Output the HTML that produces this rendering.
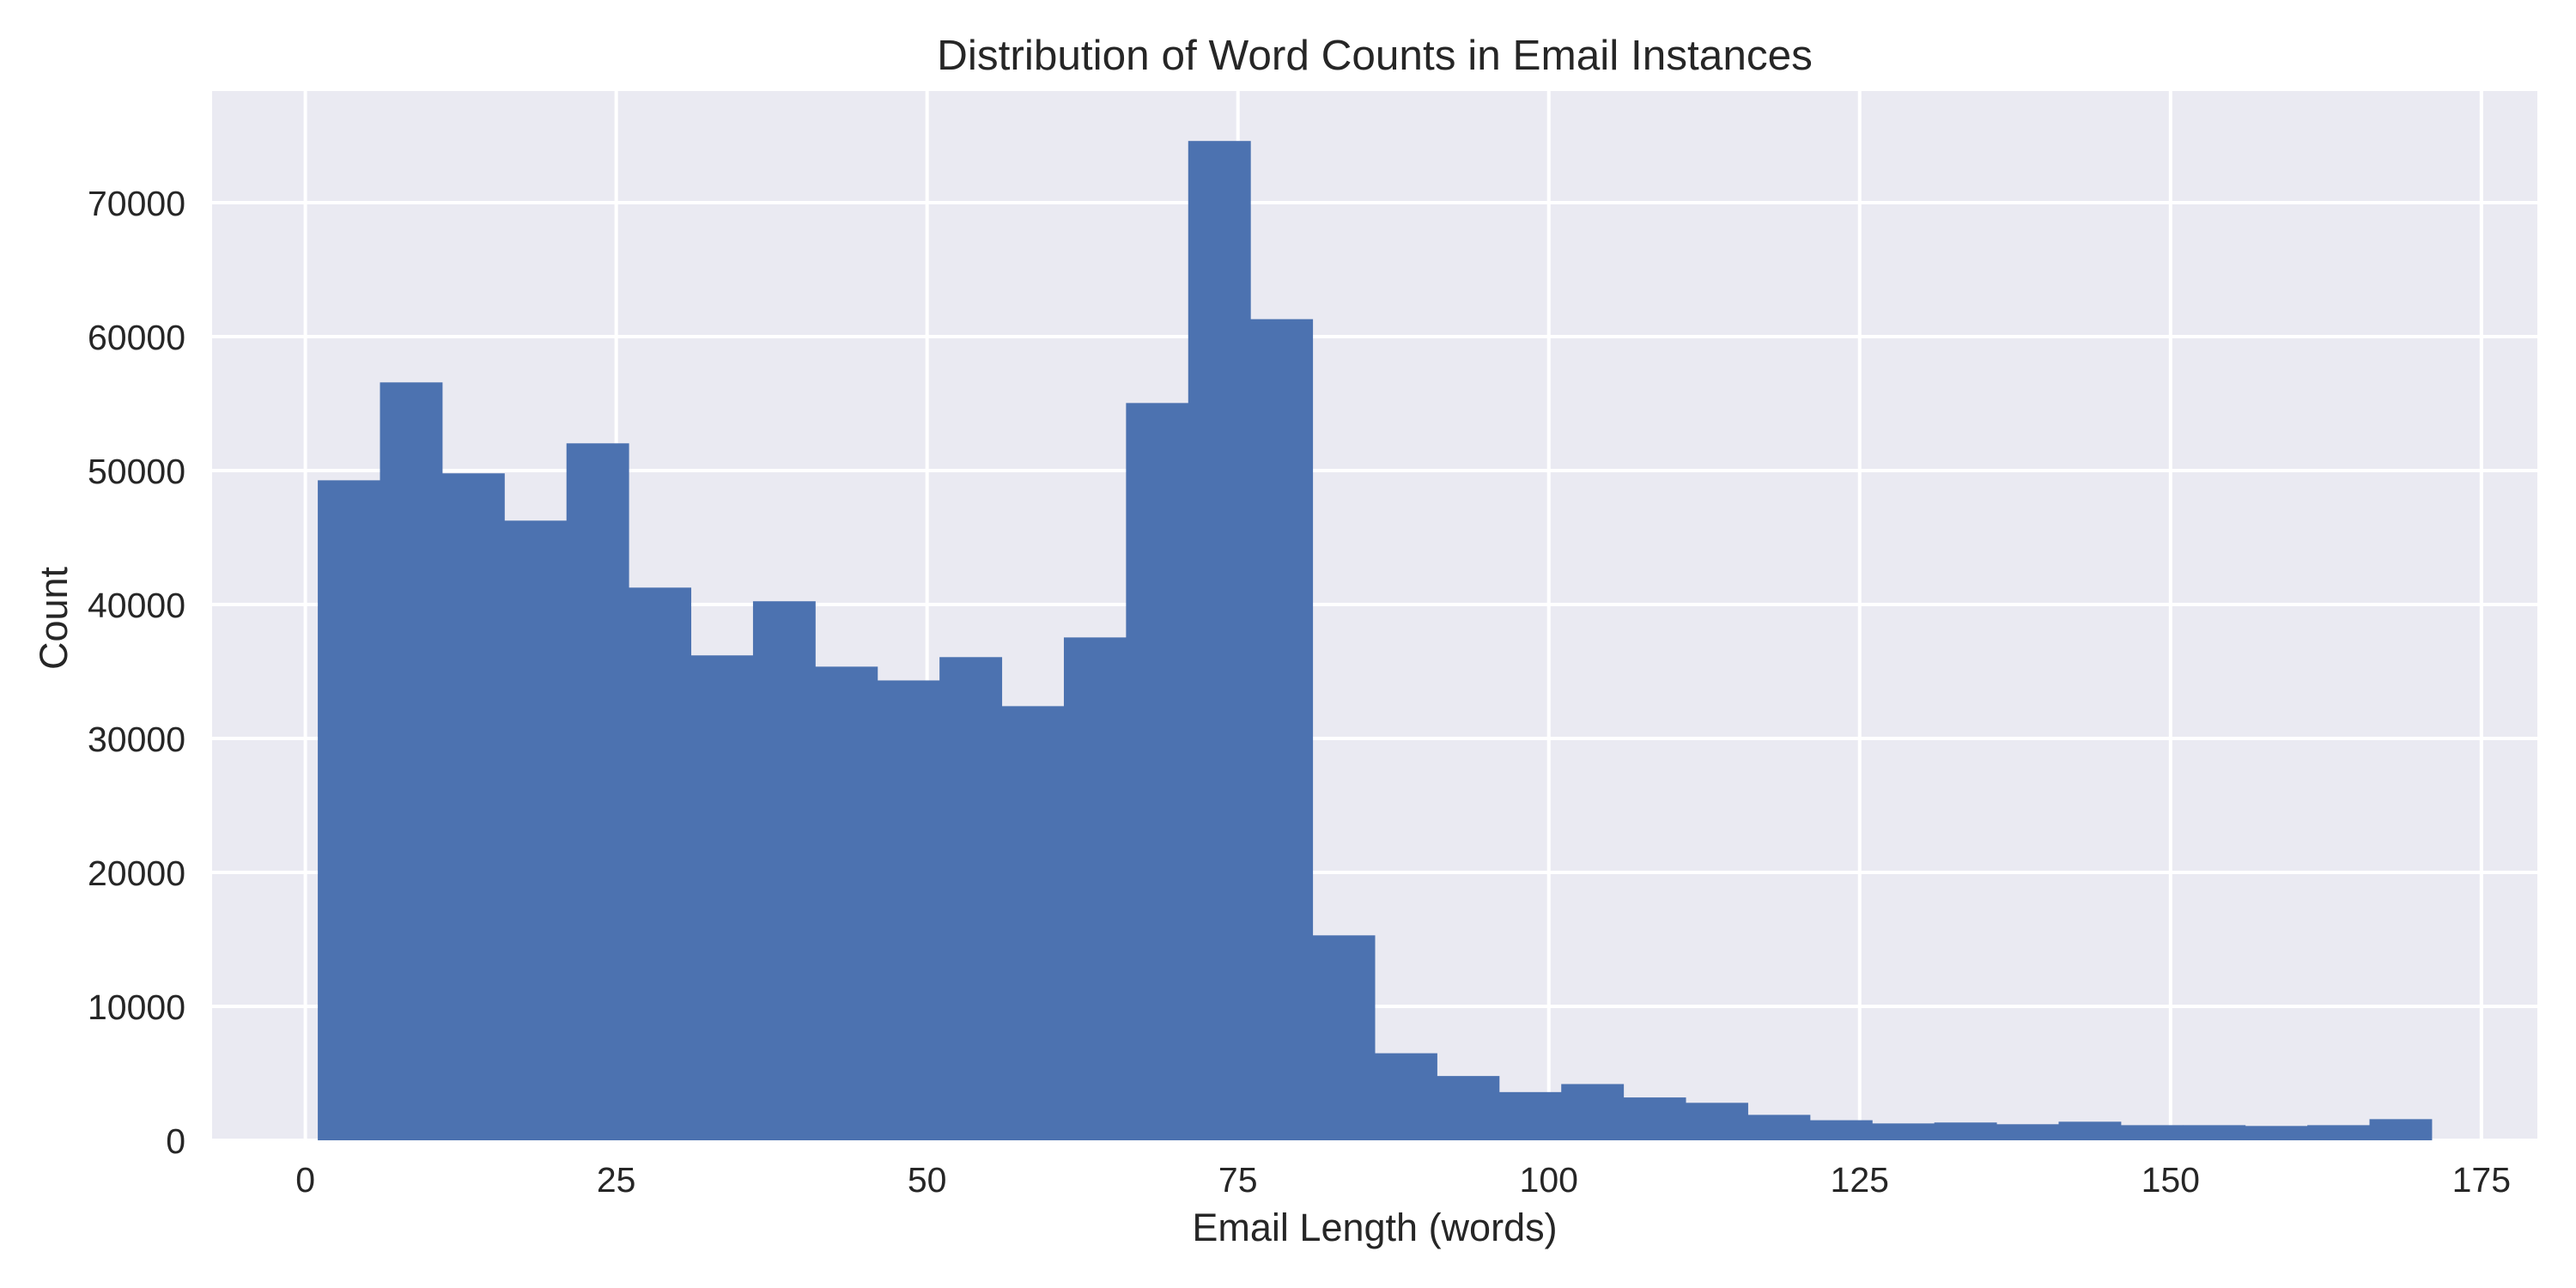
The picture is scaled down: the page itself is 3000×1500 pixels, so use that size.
<!DOCTYPE html>
<html><head><meta charset="utf-8"><style>
html,body{margin:0;padding:0;background:#fff;}
svg{display:block;font-family:"Liberation Sans",Arial,sans-serif;}
</style></head><body>
<svg id="chart" width="3000" height="1500" viewBox="0 0 3000 1500" xmlns="http://www.w3.org/2000/svg">
<rect x="0" y="0" width="3000" height="1500" fill="#ffffff"/>
<rect x="247" y="106" width="2708" height="1222" fill="#eaeaf2"/>
<g id="grid"></g>
<g id="bars"></g>
<g id="xticks"></g>
<g id="yticks"></g>
<text x="1601" y="81" text-anchor="middle" font-size="49.5" fill="#262626">Distribution of Word Counts in Email Instances</text>
<text x="1601" y="1445" text-anchor="middle" font-size="45" fill="#262626">Email Length (words)</text>
<text x="78" y="720" text-anchor="middle" font-size="45" fill="#262626" transform="rotate(-90 78 720)">Count</text>
</svg>
<script>
const binStart = 1;
const binWidth = 5;
const counts = [49270, 56580, 49790, 46260, 52030, 41260, 36200, 40240, 35360, 34330, 36070, 32410, 37540, 55040, 74600, 61300, 15300, 6500, 4800, 3600, 4200, 3200, 2800, 1900, 1500, 1260, 1330, 1200, 1390, 1130, 1130, 1070, 1130, 1580];
const xTicks = [0, 25, 50, 75, 100, 125, 150, 175];
const yTicks = [0, 10000, 20000, 30000, 40000, 50000, 60000, 70000];

const NS = "http://www.w3.org/2000/svg";
const PL = 247, PR = 2955, PT = 106, PB = 1328;
const nBins = counts.length;
const xMin = binStart - 0.05 * nBins * binWidth, xMax = binStart + nBins * binWidth + 0.05 * nBins * binWidth;
const yMax = Math.max(...counts) * 1.05;
function xs(v){ return PL + (v - xMin) / (xMax - xMin) * (PR - PL); }
function ys(v){ return PB - v / yMax * (PB - PT); }

const grid = document.getElementById('grid');
xTicks.forEach(t => {
  const l = document.createElementNS(NS, 'line');
  l.setAttribute('x1', xs(t)); l.setAttribute('x2', xs(t));
  l.setAttribute('y1', PT); l.setAttribute('y2', PB);
  l.setAttribute('stroke', '#ffffff'); l.setAttribute('stroke-width', '4');
  
  
  grid.appendChild(l);
  const tx = document.createElementNS(NS, 'text');
  tx.setAttribute('x', xs(t)); tx.setAttribute('y', 1388);
  tx.setAttribute('text-anchor', 'middle'); tx.setAttribute('font-size', '41'); tx.setAttribute('fill', '#262626');
  tx.textContent = t;
  
  
  document.getElementById('xticks').appendChild(tx);
});
yTicks.forEach(t => {
  const l = document.createElementNS(NS, 'line');
  l.setAttribute('x1', PL); l.setAttribute('x2', PR);
  l.setAttribute('y1', ys(t)); l.setAttribute('y2', ys(t));
  l.setAttribute('stroke', '#ffffff'); l.setAttribute('stroke-width', '4');
  
  
  grid.appendChild(l);
  const tx = document.createElementNS(NS, 'text');
  tx.setAttribute('x', 216); tx.setAttribute('y', ys(t) + 15);
  tx.setAttribute('text-anchor', 'end'); tx.setAttribute('font-size', '41'); tx.setAttribute('fill', '#262626');
  tx.textContent = t;
  
  
  document.getElementById('yticks').appendChild(tx);
});
const bars = document.getElementById('bars');
counts.forEach((c, i) => {
  const x0 = xs(binStart + i * binWidth), x1 = xs(binStart + (i + 1) * binWidth);
  const r = document.createElementNS(NS, 'rect');
  r.setAttribute('x', x0); r.setAttribute('width', x1 - x0 + 0.5);
  r.setAttribute('y', ys(c)); r.setAttribute('height', PB - ys(c));
  r.setAttribute('fill', '#4c72b0');
  
  
  bars.appendChild(r);
});
</script>
</body></html>
